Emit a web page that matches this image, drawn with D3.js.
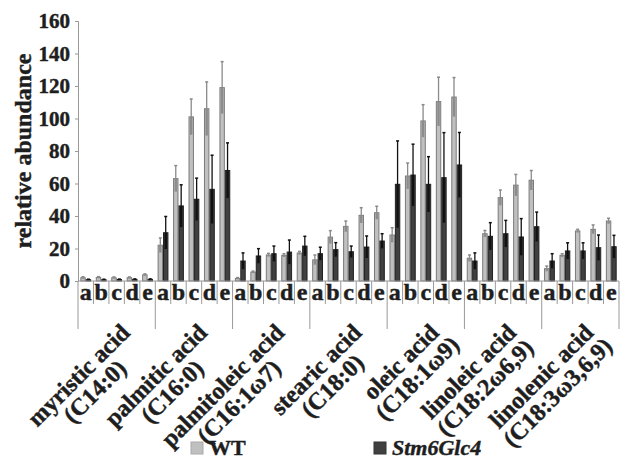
<!DOCTYPE html>
<html>
<head>
<meta charset="utf-8">
<script src="https://d3js.org/d3.v7.min.js"></script>
<style>
  html, body { margin: 0; padding: 0; background: #fff; }
  text { font-family: "Liberation Serif", "Times New Roman", serif; font-weight: bold;
         fill: #1e1e1e; stroke: #1e1e1e; stroke-width: 0.45px; }
</style>
</head>
<body>
<div id="chart"></div>
<script>
// fatty acids (two label lines each)
const acidNames = ["myristic acid", "palmitic acid", "palmitoleic acid", "stearic acid",
                   "oleic acid", "linoleic acid", "linolenic acid"];
const acidFormulas = ["(C14:0)", "(C16:0)", "(C16:1\u03c97)", "(C18:0)",
                      "(C18:1\u03c99)", "(C18:2\u03c96,9)", "(C18:3\u03c93,6,9)"];
const samples = ["a", "b", "c", "d", "e"];
const seriesNames = ["WT", "Stm6Glc4"];
const yTicks = [0, 20, 40, 60, 80, 100, 120, 140, 160];

// WT means / errors (rows = acids, cols = a..e)
const wtMean = [
  [2, 2.2, 2, 2, 3.8],
  [22, 63, 101, 106, 119],
  [1.6, 5.5, 16, 15.8, 17.2],
  [13, 27, 33.6, 40.4, 42],
  [28.3, 64.6, 98.5, 110.4, 113.2],
  [14, 29.1, 51.3, 59, 62],
  [7.6, 15.8, 30.8, 31.8, 36.9]
];
const wtErr = [
  [0.6, 0.5, 0.5, 0.5, 0.6],
  [4.5, 8, 11, 16.5, 16],
  [0.5, 0.6, 1, 1, 1],
  [3, 4, 3.3, 4.7, 4],
  [4.5, 8, 10, 15, 12],
  [2, 2, 4.7, 6.6, 6],
  [1.6, 1, 1, 2.7, 1.7]
];
// Stm6Glc4 means / errors
const mutMean = [
  [0.8, 0.8, 0.9, 1, 1],
  [29.7, 46.2, 50.3, 56.4, 68],
  [12.3, 15.4, 16.8, 17.8, 21.5],
  [16.8, 19.3, 18, 20.9, 24.6],
  [59.5, 65.2, 59.5, 63.6, 71.4],
  [12.3, 27.5, 29.1, 27.1, 33.4],
  [12.3, 18.5, 18.5, 20.5, 21.1]
];
const mutErr = [
  [0.3, 0.3, 0.3, 0.3, 0.3],
  [10, 13, 13, 21, 17],
  [5, 4.5, 4.7, 7.4, 6],
  [4, 4.3, 3.5, 6.8, 4.5],
  [26.7, 19, 17, 27.7, 20],
  [5, 8.4, 8.2, 11.3, 9],
  [4.5, 5, 5, 7.8, 7]
];

const width = 620, height = 460;
const plotLeft = 78, plotRight = 619, plotTop = 21, plotBottom = 281;

const fills = ["#c0c0c0", "#404040"];
const strokes = ["#7a7a7a", "#222"];
const errFills = ["#8c8c8c", "#111"];
const errLines = ["#8a8a8a", "#111"];

const svg = d3.select("#chart").append("svg")
  .attr("width", width).attr("height", height);

const x0 = d3.scaleBand().domain(d3.range(acidNames.length)).range([plotLeft, plotRight]);
const x1 = d3.scaleBand().domain(samples).range([0, x0.bandwidth()]);
const x2 = d3.scaleBand().domain(seriesNames)
  .range([x1.bandwidth() * 0.15, x1.bandwidth() * 0.85]);
const y = d3.scaleLinear().domain([0, 160]).range([plotBottom, plotTop]);

// y axis
const yAxis = svg.append("g")
  .attr("transform", `translate(${plotLeft},0)`)
  .call(d3.axisLeft(y).tickValues(yTicks).tickSize(3).tickPadding(5));
yAxis.select(".domain").attr("stroke", "#999");
yAxis.selectAll(".tick line").attr("stroke", "#999");
yAxis.selectAll(".tick text")
  .style("font-size", "21px")
  .style("font-family", "'Liberation Serif', serif")
  .style("font-weight", "bold");

svg.append("text")
  .attr("transform", `translate(31,${(plotTop + plotBottom) / 2}) rotate(-90)`)
  .attr("text-anchor", "middle")
  .style("font-size", "24px")
  .text("relative abundance");

// bars
const rows = [];
acidNames.forEach((n, i) => {
  samples.forEach((s, j) => {
    rows.push({ i, s, k: 0, v: wtMean[i][j], e: wtErr[i][j] });
    rows.push({ i, s, k: 1, v: mutMean[i][j], e: mutErr[i][j] });
  });
});
const bx = d => x0(d.i) + x1(d.s) + x2(seriesNames[d.k]);
const bw = x2.bandwidth();

const barG = svg.append("g");
barG.selectAll("rect.bar").data(rows).join("rect")
  .attr("class", "bar")
  .attr("x", d => bx(d) + 0.5)
  .attr("width", bw - 1)
  .attr("y", d => y(d.v))
  .attr("height", d => y(0) - y(d.v))
  .attr("fill", d => fills[d.k])
  .attr("stroke", d => strokes[d.k])
  .attr("stroke-width", 1);

// error band inside bar (minus part)
barG.selectAll("rect.eband").data(rows).join("rect")
  .attr("class", "eband")
  .attr("x", d => bx(d) + 1.5)
  .attr("width", bw - 3)
  .attr("y", d => y(d.v))
  .attr("height", d => y(Math.max(0, d.v - d.e)) - y(d.v))
  .attr("fill", d => errFills[d.k]);

// error line above bar + cap
barG.selectAll("line.eline").data(rows).join("line")
  .attr("class", "eline")
  .attr("x1", d => bx(d) + bw / 2).attr("x2", d => bx(d) + bw / 2)
  .attr("y1", d => y(d.v)).attr("y2", d => y(d.v + d.e))
  .attr("stroke", d => errLines[d.k]).attr("stroke-width", 1.3);
barG.selectAll("line.ecap").data(rows).join("line")
  .attr("class", "ecap")
  .attr("x1", d => bx(d) + bw / 2 - 1.5).attr("x2", d => bx(d) + bw / 2 + 1.5)
  .attr("y1", d => y(d.v + d.e)).attr("y2", d => y(d.v + d.e))
  .attr("stroke", d => errLines[d.k]).attr("stroke-width", 1.5);

// category axis
svg.append("line")
  .attr("x1", plotLeft).attr("x2", plotRight).attr("y1", plotBottom).attr("y2", plotBottom)
  .attr("stroke", "#999");

const groups = svg.append("g").selectAll("g").data(acidNames).join("g")
  .attr("transform", (d, i) => `translate(${x0(i)},0)`);

// short separators between samples
groups.selectAll("line.sub").data(samples.slice(1)).join("line")
  .attr("class", "sub")
  .attr("x1", s => x1(s)).attr("x2", s => x1(s))
  .attr("y1", plotBottom).attr("y2", plotBottom + 23)
  .attr("stroke", "#999");

groups.selectAll("text.letter").data(samples).join("text")
  .attr("class", "letter")
  .attr("x", s => x1(s) + x1.bandwidth() / 2)
  .attr("y", plotBottom + 19)
  .attr("text-anchor", "middle")
  .style("font-size", "24px")
  .text(s => s);

// long separators between acids
svg.selectAll("line.grp").data(d3.range(acidNames.length + 1)).join("line")
  .attr("class", "grp")
  .attr("x1", i => plotLeft + i * x0.bandwidth()).attr("x2", i => plotLeft + i * x0.bandwidth())
  .attr("y1", plotBottom).attr("y2", 329)
  .attr("stroke", "#999");

// rotated acid labels
groups.each(function (name, i) {
  const g = d3.select(this).append("g")
    .attr("transform", `translate(${x0.bandwidth() / 2 + 8.5},328) rotate(-45)`);
  const t1 = g.append("text")
    .attr("text-anchor", "end")
    .attr("dy", "0.35em")
    .style("font-size", "24px")
    .text(name);
  const w1 = t1.node().getComputedTextLength();
  g.append("text")
    .attr("text-anchor", "middle")
    .attr("x", -w1 / 2)
    .attr("y", 23)
    .attr("dy", "0.35em")
    .style("font-size", "24px")
    .text(acidFormulas[i]);
});

// legend
const legend = svg.append("g");
const legX = [191, 374];
seriesNames.forEach((s, k) => {
  legend.append("rect")
    .attr("x", legX[k]).attr("y", 442)
    .attr("width", 12).attr("height", 12)
    .attr("fill", fills[k]).attr("stroke", k ? "#333" : "#aaa");
  legend.append("text")
    .attr("x", legX[k] + 18).attr("y", 455)
    .style("font-size", "22px")
    .style("font-style", k ? "italic" : "normal")
    .text(s);
});
</script>
</body>
</html>
